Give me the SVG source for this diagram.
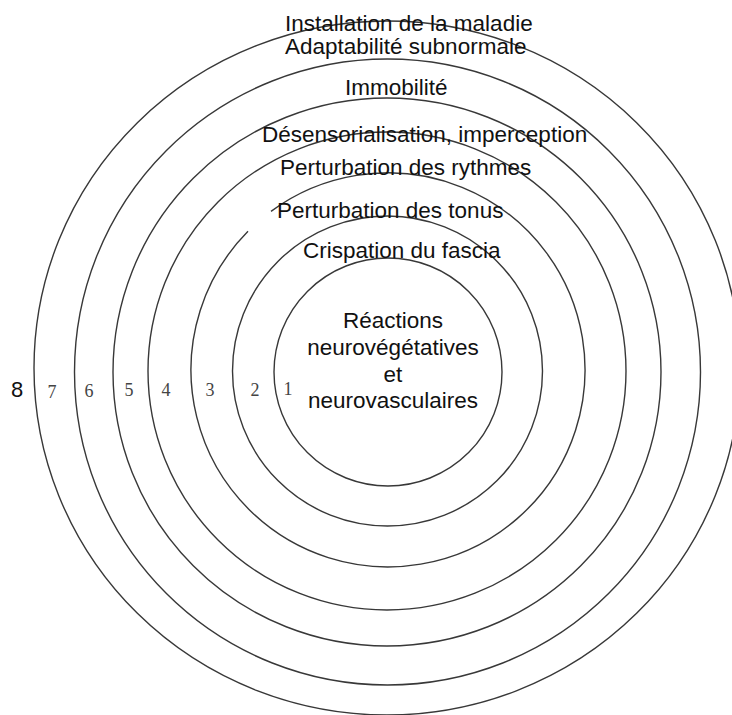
<svg xmlns="http://www.w3.org/2000/svg" width="732" height="715" viewBox="0 0 732 715">
  <style>
    .ring { fill: none; stroke: #383838; stroke-width: 1.4; }
    .lbl { font-family: "Liberation Sans", Arial, sans-serif; font-size: 22.5px; fill: #111; }
    .ctr { font-family: "Liberation Sans", Arial, sans-serif; font-size: 22.5px; fill: #111; text-anchor: middle; }
    .num { font-family: "Liberation Serif", "Times New Roman", serif; font-size: 18px; fill: #444; text-anchor: middle; }
    .num8 { font-family: "Liberation Sans", Arial, sans-serif; font-size: 22px; fill: #111; text-anchor: middle; }
  </style>
  <rect width="732" height="715" fill="#ffffff"/>
  <g id="connectors">
    <circle class="ring" cx="388" cy="372" r="114"/>
    <circle class="ring" cx="387.5" cy="371" r="155"/>
    <path class="ring" d="M 271 211.4 A 197 197 0 1 1 248 231.3"/>
    <circle class="ring" cx="387" cy="371" r="239"/>
    <circle class="ring" cx="387" cy="372" r="274"/>
    <circle class="ring" cx="387.5" cy="372" r="313"/>
    <ellipse class="ring" cx="387" cy="368" rx="353" ry="347"/>
  </g>
  <g id="ring1">
    <text class="ctr" x="393" y="328">Réactions</text>
    <text class="ctr" x="393" y="355">neurovégétatives</text>
    <text class="ctr" x="393" y="382">et</text>
    <text class="ctr" x="393" y="408">neurovasculaires</text>
    <text class="num" x="288" y="395">1</text>
  </g>
  <g id="ring2">
    <text class="lbl" x="303" y="258">Crispation du fascia</text>
    <text class="num" x="255" y="396">2</text>
  </g>
  <g id="ring3">
    <text class="lbl" x="277" y="218">Perturbation des tonus</text>
    <text class="num" x="210" y="396">3</text>
  </g>
  <g id="ring4">
    <text class="lbl" x="280" y="175">Perturbation des rythmes</text>
    <text class="num" x="166" y="396">4</text>
  </g>
  <g id="ring5">
    <text class="lbl" x="262" y="142">Désensorialisation, imperception</text>
    <text class="num" x="129" y="396">5</text>
  </g>
  <g id="ring6">
    <text class="lbl" x="345" y="95">Immobilité</text>
    <text class="num" x="89" y="397">6</text>
  </g>
  <g id="ring7">
    <text class="lbl" x="285" y="54">Adaptabilité subnormale</text>
    <text class="num" x="52" y="398">7</text>
  </g>
  <g id="ring8">
    <text class="lbl" x="285" y="31">Installation de la maladie</text>
    <text class="num8" x="17" y="397">8</text>
  </g>
</svg>
